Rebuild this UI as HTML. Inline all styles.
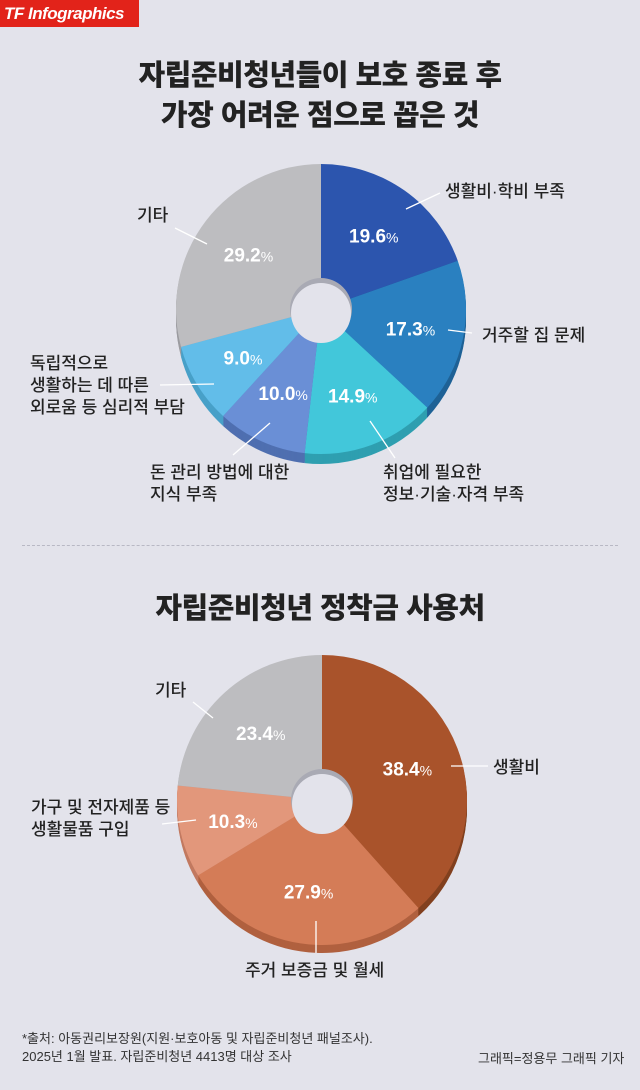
<!DOCTYPE html>
<html><head><meta charset="utf-8">
<style>
body{margin:0;width:640px;height:1090px;background:#e3e3eb;font-family:"Liberation Sans","Noto Sans CJK KR",sans-serif;overflow:hidden;position:relative}
.t{position:absolute;color:#222;}
.title{font-weight:900;font-size:29px;text-align:center;width:640px;left:0;line-height:40px;letter-spacing:-0.5px}
.lab{font-size:17px;line-height:22px;color:#222;font-weight:500}
</style></head><body>
<div style="position:absolute;left:0;top:0;width:139px;height:27px;background:#e2231a;color:#fff;font-weight:bold;font-style:italic;font-size:17px;line-height:27px;padding-left:4px;box-sizing:border-box;white-space:nowrap;letter-spacing:-0.5px;overflow:hidden">TF Infographics</div>
<div class="t title" style="top:56px">자립준비청년들이 보호 종료 후<br>가장 어려운 점으로 꼽은 것</div>
<div class="t title" style="top:589px">자립준비청년 정착금 사용처</div>
<div style="position:absolute;left:22px;top:545px;width:596px;border-top:1px dashed #b8b8c4"></div>
<svg id="svg" width="640" height="1090" style="position:absolute;left:0;top:0"></svg>
<div class="t lab" style="left:445px;top:181px">생활비·학비 부족</div>
<div class="t lab" style="left:482px;top:325px">거주할 집 문제</div>
<div class="t lab" style="left:383px;top:462px">취업에 필요한<br>정보·기술·자격 부족</div>
<div class="t lab" style="left:150px;top:462px">돈 관리 방법에 대한<br>지식 부족</div>
<div class="t lab" style="left:30px;top:353px">독립적으로<br>생활하는 데 따른<br>외로움 등 심리적 부담</div>
<div class="t lab" style="left:137px;top:205px">기타</div>
<div class="t lab" style="left:493px;top:757px">생활비</div>
<div class="t lab" style="left:245px;top:960px">주거 보증금 및 월세</div>
<div class="t lab" style="left:31px;top:797px">가구 및 전자제품 등<br>생활물품 구입</div>
<div class="t lab" style="left:155px;top:680px">기타</div>
<div class="t" style="left:22px;top:1030px;font-size:13px;line-height:18px;color:#333">*출처: 아동권리보장원(지원·보호아동 및 자립준비청년 패널조사).<br>2025년 1월 발표. 자립준비청년 4413명 대상 조사</div>
<div class="t" style="left:478px;top:1048px;font-size:13px;color:#333">그래픽=정용무 그래픽 기자</div>
<script>
const cat1=["생활비·학비 부족","거주할 집 문제","취업 정보·기술·자격 부족","돈 관리 지식 부족","심리적 부담","기타"];
const val1=[19.6,17.3,14.9,10.0,9.0,29.2];
const col1=["#2c55ae","#2a80c0","#42c7da","#6a8fd6","#62bde9","#bdbdc0"];
const side1=["#1f3f85","#1f6296","#2f9fb0","#4f6fb0","#48a0c8","#9c9ca0"];
const cat2=["생활비","주거 보증금 및 월세","생활물품 구입","기타"];
const val2=[38.4,27.9,10.3,23.4];
const col2=["#a9532b","#d47c57","#e2977b","#bdbdc0"];
const side2=["#82401f","#b0603f","#c27a60","#9c9ca0"];
const NS="http://www.w3.org/2000/svg",svg=document.getElementById('svg');
function mk(t,a){const e=document.createElementNS(NS,t);for(const k in a)e.setAttribute(k,a[k]);svg.appendChild(e);return e;}
function arc(cx,cy,r,a0,a1){const p=a=>[cx+r*Math.sin(a),cy-r*Math.cos(a)];const s=p(a0),e=p(a1);return `M${cx},${cy}L${s[0]},${s[1]}A${r},${r} 0 ${a1-a0>Math.PI?1:0} 1 ${e[0]},${e[1]}Z`;}
function pie(name,vals,cols,sides,cx,cy,r,d,lines){
  const tot=vals.reduce((a,b)=>a+b,0);let a=0;const angs=[];
  vals.forEach(v=>{const b=a+v/tot*2*Math.PI;angs.push([a,b]);a=b;});
  for(let k=d;k>0;k--)angs.forEach((g,i)=>{const e=mk('path',{d:arc(cx,cy+k,r,g[0],g[1]),fill:sides[i]});});
  angs.forEach((g,i)=>{const e=mk('path',{d:arc(cx,cy,r,g[0],g[1]),fill:cols[i]});});
  const h1=mk('circle',{cx:cx,cy:cy,r:31,fill:'#a9aab4'});
  const h=mk('circle',{cx:cx,cy:cy+4,r:30,fill:'#e3e3eb'});
  angs.forEach((g,i)=>{const m=(g[0]+g[1])/2,rr=r*0.63;const x=cx+rr*Math.sin(m),y=cy-rr*Math.cos(m)+8;
    const t=mk('text',{x:x,y:y,fill:'#fff','font-size':19,'font-weight':'bold','text-anchor':'middle','font-family':'Liberation Sans, sans-serif'});
    
    t.innerHTML=vals[i].toFixed(1)+'<tspan font-size="14" font-weight="normal">%</tspan>';});
  lines.forEach((l,i)=>{const e=mk('line',{x1:l[0],y1:l[1],x2:l[2],y2:l[3],stroke:'#fff','stroke-width':1.3});});
}
pie('pie1',val1,col1,side1,321,309,145,10,[[406,209,440,193],[448,330,472,333],[370,421,395,458],[270,423,233,455],[214,384,160,385],[207,244,175,228]]);
pie('pie2',val2,col2,side2,322,800,145,8,[[451,766,488,766],[316,921,316,953],[196,820,162,824],[213,718,193,702]]);
</script>
</body></html>
